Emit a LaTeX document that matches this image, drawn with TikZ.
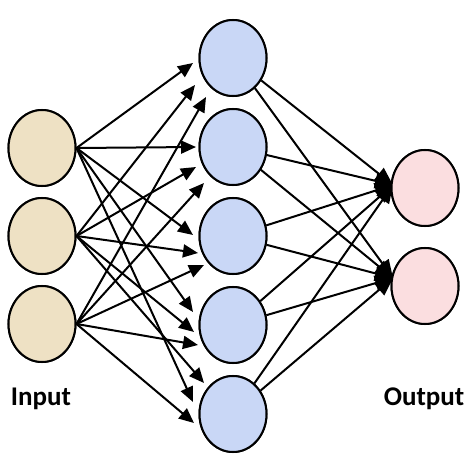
\documentclass[tikz,border=0pt]{standalone}
\usepackage{fontspec}
\setmainfont{Carlito}
\usetikzlibrary{shapes.geometric,arrows.meta}
\definecolor{intan}{RGB}{238,225,196}
\definecolor{hidblue}{RGB}{201,215,246}
\definecolor{outpink}{RGB}{251,222,224}
\tikzset{
  neuron/.style={ellipse,draw=black,line width=2pt,inner sep=0pt,minimum width=67pt,minimum height=76pt},
  innode/.style={neuron,fill=intan},
  hidnode/.style={neuron,fill=hidblue},
  outnode/.style={neuron,fill=outpink},
  arr/.style={line width=2pt,-{Triangle[length=15pt,width=13pt]}},
  arrbig/.style={line width=2pt,-{Triangle[length=18pt,width=15pt]}},
  lbl/.style={anchor=base,font=\fontsize{27}{30}\selectfont\bfseries}
}
\begin{document}
\begin{tikzpicture}[x=1pt,y=-1pt]
\useasboundingbox[fill=white] (0,0) rectangle (464,460);
% nodes
\node[innode] (i1) at (42,148) {};
\node[innode] (i2) at (42,236) {};
\node[innode] (i3) at (42,324) {};
\node[hidnode] (h1) at (233,58) {};
\node[hidnode] (h2) at (233,147) {};
\node[hidnode] (h3) at (233,236) {};
\node[hidnode] (h4) at (233,325) {};
\node[hidnode] (h5) at (233,414) {};
\node[outnode] (o1) at (425,188) {};
\node[outnode] (o2) at (425,286) {};
% arrow tips
\coordinate (t11) at (193,63);
\coordinate (t21) at (195,85);
\coordinate (t31) at (206,97);
\coordinate (t12) at (196,147);
\coordinate (t22) at (196,167);
\coordinate (t32) at (204,183);
\coordinate (t13) at (193,235);
\coordinate (t23) at (198,253);
\coordinate (t33) at (204,265);
\coordinate (t14) at (193,312);
\coordinate (t24) at (194,332);
\coordinate (t34) at (198,345);
\coordinate (t15) at (193,402);
\coordinate (t25) at (204,383);
\coordinate (t35) at (194,423);
\coordinate (to1) at (393,185);
\coordinate (to2) at (393,278);
% input -> hidden
\foreach \i in {1,2,3}{
  \foreach \j in {1,2,3,4,5}{
    \draw[arr] (i\i.east) -- (t\i\j);
  }
}
% hidden -> output
\foreach \j in {1,2,3,4,5}{
  \draw[arrbig] (h\j) -- (to1);
  \draw[arrbig] (h\j) -- (to2);
}
% redraw nodes on top
\node[innode] at (i1) {};
\node[innode] at (i2) {};
\node[innode] at (i3) {};
\node[hidnode] at (h1) {};
\node[hidnode] at (h2) {};
\node[hidnode] at (h3) {};
\node[hidnode] at (h4) {};
\node[hidnode] at (h5) {};
\node[outnode] at (o1) {};
\node[outnode] at (o2) {};
% labels
\node[lbl] (lin) at (41,405) {Input};
\node[lbl] (lout) at (424,405) {Output};
\end{tikzpicture}
\end{document}
